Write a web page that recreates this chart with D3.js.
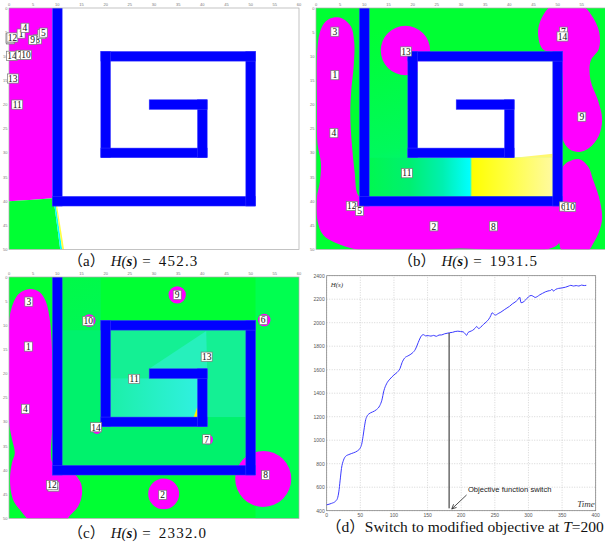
<!DOCTYPE html>
<html>
<head>
<meta charset="utf-8">
<script src="https://cdn.jsdelivr.net/npm/d3@7"></script>
<style>
body { margin: 0; background: #fff; }
svg { display: block; }
</style>
</head>
<body>
<div id="chart"></div>
<script>
// ---- map panels (a)-(c): 60 x 50 field ----
const mapXTicks = [0, 5, 10, 15, 20, 25, 30, 35, 40, 45, 50, 55, 60];
const mapYTicks = [0, 5, 10, 15, 20, 25, 30, 35, 40, 45, 50];

// spiral walls [x0, y0, x1, y1]
const walls = [
  [9, 0, 11, 41], [9, 39, 51, 41], [49, 9, 51, 41], [19, 9, 51, 11],
  [19, 9, 21, 31], [19, 29, 41, 31], [39, 19, 41, 31], [29, 19, 41, 21]
];

// (a) H = 452.3
const covA = [[0, 0], [9, 0], [9, 39.4], [5, 39.7], [0, 40]];
const greenA = [[0, 40], [5, 39.7], [9.2, 39.4], [10.6, 50], [0, 50]];
const cyanA = [[9.2, 39.4], [9.5, 39.4], [11.0, 50], [10.6, 50]];
const yellowA = [[9.5, 39.4], [9.7, 39.4], [11.4, 50], [11.0, 50]];
const labelsA = [
  ["3", 0.3, 6.5], ["2", 0.2, 6.3], ["12", 0.7, 6.1], ["1", 2.5, 5.3], ["4", 3.3, 4.1],
  ["8", 5.9, 6.5], ["9", 4.9, 6.6], ["6", 6.8, 5.4], ["5", 7.1, 5.1],
  ["14", 0.6, 9.9], ["7", 2.3, 9.7], ["10", 3.5, 9.7], ["13", 0.8, 14.6], ["11", 1.7, 20.0]
];

// (b) H = 1931.5
const blobsB = [
  [[3.5, 2.0], [5.5, 2.2], [7.2, 3.8], [7.9, 7], [7.8, 12], [7.3, 17], [7.1, 22], [7.4, 28],
   [8.0, 34], [8.6, 38.5], [9.8, 39.6], [30, 39.6], [50, 39.6], [51.5, 40.5], [52, 43],
   [51.5, 46], [50, 49], [46, 50.3], [40, 50.3], [30, 49.8], [20, 50.3], [10, 50.3],
   [4, 48.6], [1.5, 47], [0.3, 44], [0.2, 39], [0.8, 36], [1.0, 32], [0.3, 28], [0.2, 20],
   [0.2, 10], [0.8, 5], [2, 2.8]],
  [[48.8, -0.5], [46.3, 3], [46, 6], [47, 8.6], [50, 9.5], [51, 14], [51, 22], [51, 27],
   [52.5, 29.3], [54.5, 29.8], [56.5, 29], [58.5, 26.5], [59.2, 23], [58.3, 19], [56.8, 15],
   [56.8, 11], [58.5, 8.5], [58.6, 5], [57, 1.5], [55, -0.5]],
  [[51, 33], [52.3, 31.8], [54.5, 31.3], [56.3, 32.8], [57.3, 35.5], [58.5, 39], [59.2, 43.5],
   [58.5, 46.5], [57.5, 48.5], [56, 50.5], [51, 50.5], [50.5, 42], [50.6, 36]]
];
const discsB = [[18.5, 8.8, 5.1]];
const labelsB = [
  ["3", 3.9, 4.9], ["1", 3.9, 13.9], ["4", 3.7, 25.9], ["13", 18.6, 9.0], ["11", 18.8, 34.2],
  ["12", 7.4, 41.0], ["5", 9.0, 42.0], ["2", 24.4, 45.2], ["8", 36.7, 45.2],
  ["7", 51.2, 4.9], ["14", 51.0, 5.9], ["9", 55.0, 22.5], ["6", 51.2, 41.1], ["10", 52.6, 41.2]
];

// (c) H = 2332.0
const blobsC = [
  [[4.3, 2.5], [6.3, 3.1], [7.6, 5], [8.4, 8.5], [8.8, 13], [9, 20], [9, 30], [9, 38.5],
   [10.5, 39.2], [13, 40.3], [14.8, 42.5], [15.1, 45], [14.3, 47.5], [12.5, 49.5], [11.5, 51],
   [5, 51], [2.5, 48.5], [0.8, 46], [0.2, 42], [0.6, 38.5], [1.2, 36.5], [0.6, 33.5], [0, 30],
   [-0.2, 20], [0, 10], [0.5, 6.5], [2, 3.5]]
];
const discsC = [
  [34.8, 3.7, 1.8], [16.6, 9.0, 1.3], [52.8, 8.9, 1.3], [41.1, 16.6, 0.8],
  [41.2, 33.7, 1.0], [18.2, 31.5, 1.0], [32.0, 44.9, 3.2], [52.6, 41.8, 5.8]
];
const labelsC = [
  ["3", 4.1, 5.1], ["1", 4.0, 14.4], ["4", 3.4, 27.3], ["10", 16.4, 9.1], ["11", 25.9, 21.1],
  ["14", 18.0, 31.1], ["15", 9.2, 43.4], ["12", 8.9, 43.1], ["9", 34.8, 3.7], ["6", 52.6, 8.9],
  ["13", 40.9, 16.5], ["7", 40.9, 33.6], ["8", 53.1, 41.0], ["2", 31.8, 45.1]
];

// ---- panel (d): H(s) over time ----
const timeD = [0, 7, 13, 16, 18, 20, 22, 25, 28, 33, 40, 46, 50, 52, 54, 56, 58, 60, 63, 68,
  74, 79, 82, 85, 89, 94, 100, 106, 109, 112, 116, 121, 127, 132, 136, 139, 142, 144, 147, 151,
  155, 159, 163, 167, 171, 175, 179, 183, 187, 191, 195, 199, 203, 206, 208, 210, 213, 217, 221,
  223, 226, 229, 233, 237, 241, 244, 246, 248, 251, 255, 259, 264, 268, 272, 276, 280, 284, 286,
  287, 289, 292, 296, 300, 304, 307, 310, 313, 317, 321, 325, 329, 333, 335, 337, 341, 345, 350,
  355, 359, 363, 367, 371, 375, 379, 383, 386];
const hD = [450, 462, 480, 505, 560, 660, 760, 830, 862, 878, 893, 910, 935, 965, 1030, 1110,
  1175, 1205, 1225, 1240, 1260, 1295, 1340, 1420, 1480, 1520, 1555, 1585, 1610, 1660, 1700, 1718,
  1740, 1775, 1830, 1870, 1895, 1898, 1888, 1890, 1886, 1892, 1884, 1895, 1896, 1905, 1910, 1915,
  1918, 1925, 1928, 1925, 1922, 1905, 1892, 1915, 1925, 1935, 1955, 1968, 1950, 1962, 1985, 2005,
  2030, 2060, 2085, 2075, 2065, 2078, 2090, 2110, 2125, 2140, 2160, 2175, 2195, 2210, 2218, 2170,
  2175, 2195, 2220, 2232, 2225, 2215, 2222, 2238, 2250, 2262, 2270, 2275, 2285, 2270, 2285, 2292,
  2296, 2302, 2310, 2318, 2312, 2316, 2312, 2320, 2316, 2318];
const dXTicks = [0, 50, 100, 150, 200, 250, 300, 350, 400];
const dYTicks = [400, 600, 800, 1000, 1200, 1400, 1600, 1800, 2000, 2200, 2400];
const switchT = 182, switchTop = 1912, switchBottom = 420;
const arrowFrom = [208, 534], arrowTo = [186, 415];

const GREEN = "#00ff33", MAGENTA = "#ff00ff", BLUE = "#0000ff";

const svg = d3.select("#chart").append("svg")
  .attr("width", 605).attr("height", 544);
const defs = svg.append("defs");

function mapPanel(id, x0, y0) {
  const x = d3.scaleLinear().domain([0, 60]).range([x0, x0 + 290]);
  const y = d3.scaleLinear().domain([0, 50]).range([y0, y0 + 241.5]);
  defs.append("clipPath").attr("id", "clip-" + id)
    .append("rect").attr("x", x0).attr("y", y0).attr("width", 290).attr("height", 241.5);
  const g = svg.append("g");
  const body = g.append("g").attr("clip-path", `url(#clip-${id})`);
  return {x, y, g, body};
}

function poly(p, pts, fill) {
  const line = d3.line().x(d => p.x(d[0])).y(d => p.y(d[1]));
  return p.body.append("path").attr("d", line(pts) + "Z").attr("fill", fill);
}

function blob(p, pts) {
  const line = d3.line().x(d => p.x(d[0])).y(d => p.y(d[1])).curve(d3.curveCatmullRomClosed);
  p.body.append("path").attr("d", line(pts)).attr("fill", MAGENTA);
}

function rect(p, r, fill) {
  return p.body.append("rect")
    .attr("x", p.x(r[0])).attr("y", p.y(r[1]))
    .attr("width", p.x(r[2]) - p.x(r[0])).attr("height", p.y(r[3]) - p.y(r[1]))
    .attr("fill", fill);
}

function discs(p, list) {
  p.body.selectAll(null).data(list).enter().append("ellipse")
    .attr("cx", d => p.x(d[0])).attr("cy", d => p.y(d[1]))
    .attr("rx", d => p.x(d[2]) - p.x(0)).attr("ry", d => p.y(d[2]) - p.y(0))
    .attr("fill", MAGENTA);
}

function finishMap(p, labels) {
  p.body.selectAll(null).data(walls).enter().append("rect")
    .attr("x", d => p.x(d[0])).attr("y", d => p.y(d[1]))
    .attr("width", d => p.x(d[2]) - p.x(d[0])).attr("height", d => p.y(d[3]) - p.y(d[1]))
    .attr("fill", BLUE).attr("stroke", "#3a3aff").attr("stroke-width", 0.5);

  const [x0, x1] = p.x.range(), [y0, y1] = p.y.range();
  p.g.append("rect").attr("x", x0).attr("y", y0).attr("width", x1 - x0).attr("height", y1 - y0)
    .attr("fill", "none").attr("stroke", "#aaa").attr("stroke-width", 0.7);

  // tick labels that would fall off the page edge are left out, as in the source
  p.g.selectAll(null).data(mapXTicks.filter(d => p.x(d) < 603)).enter().append("text")
    .attr("x", d => p.x(d)).attr("y", y0 - 2)
    .attr("text-anchor", "middle").attr("font-size", 4).attr("fill", "#777")
    .attr("font-family", "Liberation Sans, sans-serif").text(d => d);
  p.g.selectAll(null).data(mapYTicks).enter().append("text")
    .attr("x", x0 - 1.5).attr("y", d => p.y(d) + 1.5)
    .attr("text-anchor", "end").attr("font-size", 4).attr("fill", "#777")
    .attr("font-family", "Liberation Sans, sans-serif").text(d => d);

  const lab = p.g.selectAll(null).data(labels).enter().append("g")
    .attr("transform", d => `translate(${p.x(d[1])},${p.y(d[2])})`);
  lab.append("rect")
    .attr("x", d => d[0].length > 1 ? -5.5 : -4).attr("y", -4.6)
    .attr("width", d => d[0].length > 1 ? 11 : 8).attr("height", 9.2)
    .attr("fill", "#fff").attr("stroke", "#777").attr("stroke-width", 0.7);
  lab.append("text").attr("y", 3.3).attr("text-anchor", "middle")
    .attr("font-family", "Liberation Serif, serif").attr("font-size", 9.5)
    .attr("fill", "#111").text(d => d[0]);
}

function caption(x, y, tag, value) {
  const t = svg.append("text").attr("x", x).attr("y", y)
    .attr("font-family", "Liberation Serif, 'Noto Sans CJK SC', serif").attr("font-size", 15)
    .attr("fill", "#111");
  t.append("tspan").text(tag);
  t.append("tspan").attr("dx", 6).attr("font-style", "italic").text("H(");
  t.append("tspan").attr("font-style", "italic").attr("font-weight", "bold").text("s");
  t.append("tspan").text(")");
  t.append("tspan").attr("dx", 5).text("=");
  t.append("tspan").attr("dx", 8).attr("letter-spacing", 1.2).text(value);
}

function gradient(id, x1, y1, x2, y2, stops) {
  const gr = defs.append("linearGradient").attr("id", id)
    .attr("gradientUnits", "userSpaceOnUse")
    .attr("x1", x1).attr("y1", y1).attr("x2", x2).attr("y2", y2);
  stops.forEach(s => gr.append("stop").attr("offset", s[0]).attr("stop-color", s[1]));
  return `url(#${id})`;
}

// ---- (a) ----
const pa = mapPanel("a", 9, 8);
rect(pa, [0, 0, 60, 50], "#fff");
poly(pa, covA, MAGENTA);
poly(pa, greenA, GREEN);
poly(pa, cyanA, "#00ffff");
poly(pa, yellowA, "#ffff40");
finishMap(pa, labelsA);
caption(68, 266, "（a）", "452.3");

// ---- (b) ----
const pb = mapPanel("b", 316, 8);
rect(pb, [0, 0, 60, 50], GREEN);
rect(pb, [11, 0, 19, 39], gradient("gbl", pb.x(11), pb.y(5), pb.x(20), pb.y(39),
  [[0, "#00ff33"], [0.7, "#00f95c"], [1, "#00f08a"]]));
blobsB.forEach(b => blob(pb, b));
discs(pb, discsB);
rect(pb, [21, 11, 49, 31], "#fff");
poly(pb, [[41, 31], [49, 30.2], [49, 31]], "#fff870");
rect(pb, [11, 31, 49, 39], gradient("gbb", pb.x(11), 0, pb.x(49), 0,
  [[0, "#00f850"], [0.22, "#00f070"], [0.4, "#00f0b0"], [0.55, "#00ffff"],
   [0.56, "#ffff00"], [0.75, "#ffff40"], [1, "#fffaa0"]]));
finishMap(pb, labelsB);
caption(398, 266, "（b）", "1931.5");

// ---- (c) ----
const pc = mapPanel("c", 9, 277);
rect(pc, [0, 0, 60, 50], GREEN);
rect(pc, [51, 0, 60, 50], "#00ff50");
rect(pc, [11, 0, 19, 39], gradient("gcl", pc.x(11), pc.y(0), pc.x(19), pc.y(39),
  [[0, "#00fa48"], [1, "#00f070"]]));
rect(pc, [11, 11, 49, 39], "#00f26c");
rect(pc, [21, 11, 49, 29], "#14f094");
poly(pc, [[29, 19], [40.8, 11.2], [41, 19]], "#26f0bc");
rect(pc, [21, 21, 39, 29], gradient("gci", pc.x(21), 0, pc.x(39), 0,
  [[0, "#1cf0a8"], [0.5, "#26f0c4"], [1, "#30f0e0"]]));
poly(pc, [[38.2, 29], [39, 26.8], [39, 29]], "#ffee00");
blobsC.forEach(b => blob(pc, b));
discs(pc, discsC);
finishMap(pc, labelsC);
caption(68, 538, "（c）", "2332.0");

// ---- (d) ----
const x = d3.scaleLinear().domain([0, 400]).range([326.7, 595.7]);
const y = d3.scaleLinear().domain([400, 2400]).range([510.7, 275.7]);
const gd = svg.append("g");

gd.selectAll(null).data(dXTicks).enter().append("line")
  .attr("x1", d => x(d)).attr("x2", d => x(d)).attr("y1", y(400)).attr("y2", y(2400))
  .attr("stroke", "#bbb").attr("stroke-width", 0.6).attr("stroke-dasharray", "1,1.5");
gd.selectAll(null).data(dYTicks).enter().append("line")
  .attr("y1", d => y(d)).attr("y2", d => y(d)).attr("x1", x(0)).attr("x2", x(400))
  .attr("stroke", "#bbb").attr("stroke-width", 0.6).attr("stroke-dasharray", "1,1.5");
gd.append("rect").attr("x", x(0)).attr("y", y(2400))
  .attr("width", x(400) - x(0)).attr("height", y(400) - y(2400))
  .attr("fill", "none").attr("stroke", "#777").attr("stroke-width", 0.7);

gd.selectAll(null).data(dXTicks).enter().append("text")
  .attr("x", d => x(d)).attr("y", y(400) + 6).attr("text-anchor", "middle")
  .attr("font-family", "Liberation Sans, sans-serif").attr("font-size", 5).attr("fill", "#555")
  .text(d => d);
gd.selectAll(null).data(dYTicks).enter().append("text")
  .attr("x", x(0) - 2).attr("y", d => y(d) + 1.8).attr("text-anchor", "end")
  .attr("font-family", "Liberation Sans, sans-serif").attr("font-size", 5).attr("fill", "#555")
  .text(d => d);

const hLine = d3.line().x((d, i) => x(timeD[i])).y(d => y(d)).curve(d3.curveMonotoneX);
gd.append("path").datum(hD).attr("d", hLine)
  .attr("fill", "none").attr("stroke", "#3a3aff").attr("stroke-width", 1);

gd.append("line").attr("x1", x(switchT)).attr("x2", x(switchT))
  .attr("y1", y(switchTop)).attr("y2", y(switchBottom))
  .attr("stroke", "#222").attr("stroke-width", 1);

// arrow to the switch point
const ax1 = x(arrowFrom[0]), ay1 = y(arrowFrom[1]), ax2 = x(arrowTo[0]), ay2 = y(arrowTo[1]);
const ang = Math.atan2(ay2 - ay1, ax2 - ax1);
gd.append("line").attr("x1", ax1).attr("y1", ay1).attr("x2", ax2).attr("y2", ay2)
  .attr("stroke", "#222").attr("stroke-width", 0.8);
gd.append("path")
  .attr("d", `M${ax2 - 5 * Math.cos(ang - 0.45)},${ay2 - 5 * Math.sin(ang - 0.45)}L${ax2},${ay2}L${ax2 - 5 * Math.cos(ang + 0.45)},${ay2 - 5 * Math.sin(ang + 0.45)}`)
  .attr("fill", "none").attr("stroke", "#222").attr("stroke-width", 0.8);

gd.append("text").attr("x", x(210)).attr("y", y(559))
  .attr("font-family", "Liberation Sans, sans-serif").attr("font-size", 7.6).attr("fill", "#222")
  .text("Objective function switch");
gd.append("text").attr("x", x(400) - 1).attr("y", y(400) - 4).attr("text-anchor", "end")
  .attr("font-family", "Liberation Serif, serif").attr("font-style", "italic")
  .attr("font-size", 9).attr("fill", "#333").text("Time");
gd.append("text").attr("x", x(0) + 4).attr("y", y(2400) + 11)
  .attr("font-family", "Liberation Serif, serif").attr("font-style", "italic")
  .attr("font-size", 7).attr("fill", "#333").text("H(s)");

const cd = svg.append("text").attr("x", 326).attr("y", 532)
  .attr("font-family", "Liberation Serif, 'Noto Sans CJK SC', serif").attr("font-size", 15.5)
  .attr("fill", "#111");
cd.append("tspan").text("（d）");
cd.append("tspan").text("Switch to modified objective at ");
cd.append("tspan").attr("font-style", "italic").text("T");
cd.append("tspan").text("=200");
</script>
</body>
</html>
